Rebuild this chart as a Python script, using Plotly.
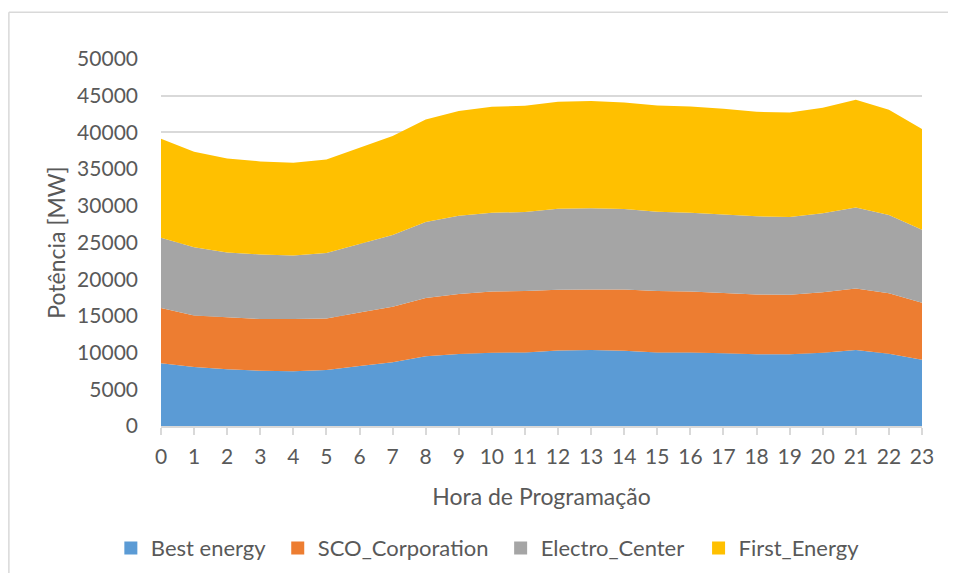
import plotly.graph_objects as go

hours = list(range(24))
best_energy = [8540, 8040, 7720, 7540, 7450, 7630, 8170, 8670, 9490, 9800, 9990, 10030,
               10300, 10350, 10260, 10030, 10030, 9900, 9760, 9760, 9990, 10350, 9850, 9030]
sco_corporation = [7530, 7030, 7080, 7030, 7120, 7030, 7310, 7580, 7940, 8180, 8350, 8360,
                   8270, 8260, 8350, 8360, 8310, 8210, 8170, 8130, 8220, 8400, 8220, 7770]
electro_center = [9580, 9270, 8850, 8810, 8670, 8900, 9310, 9760, 10350, 10670, 10710, 10760,
                  11030, 11040, 10940, 10800, 10720, 10720, 10630, 10580, 10760, 11030, 10670, 9940]
first_energy = [13480, 13020, 12810, 12670, 12630, 12760, 13120, 13490, 13990, 14250, 14440, 14480,
                14570, 14620, 14530, 14480, 14470, 14390, 14250, 14250, 14390, 14670, 14340, 13710]

series_names = ["Best energy", "SCO_Corporation", "Electro_Center", "First_Energy"]
series_values = [best_energy, sco_corporation, electro_center, first_energy]
series_colors = ["#5B9BD5", "#ED7D31", "#A5A5A5", "#FFC000"]

y_ticks = [0, 5000, 10000, 15000, 20000, 25000, 30000, 35000, 40000, 45000, 50000]

FONT = "Lato"
TXT = "#595959"
GRID = "#D9D9D9"

# page body has an 8px margin; figure sized to fit inside the 956x581 window
W, H = 940, 565
PL, PR, PT, PB = 152.7, 26, 51.3, 147  # plot area = x 160.7..922, y 59.3..426 in window px

legend_names = ["legend", "legend2", "legend3", "legend4"]
legend_x = [-0.0659, 0.1534, 0.4463, 0.7064]

fig = go.Figure()
for name, vals, col in zip(series_names, series_values, series_colors):
    fig.add_trace(go.Scatter(
        x=hours, y=vals, name=name, stackgroup="one", mode="none",
        fillcolor=col, showlegend=False, hoverinfo="x+y+name"))
for name, col, lg in zip(series_names, series_colors, legend_names):
    fig.add_trace(go.Scatter(
        x=[None], y=[None], name=name, mode="markers", legend=lg,
        marker=dict(symbol="square", size=13, color=col), showlegend=True))

legend_common = dict(orientation="h", y=-0.3327, yanchor="middle", xanchor="left",
                     font=dict(family=FONT, size=22, color=TXT), itemwidth=30,
                     bgcolor="rgba(0,0,0,0)", borderwidth=0)
layout_legends = {lg: dict(legend_common, x=lx) for lg, lx in zip(legend_names, legend_x)}

fig.update_layout(
    width=W, height=H,
    margin=dict(l=PL, r=PR, t=PT, b=PB, autoexpand=False),
    paper_bgcolor="white", plot_bgcolor="white",
    font=dict(family=FONT, size=21, color=TXT),
    showlegend=True,
    xaxis=dict(
        range=[0, 23], tickmode="array", tickvals=hours, ticktext=[str(h) for h in hours],
        showgrid=False, zeroline=False, showline=True, linecolor=GRID, linewidth=1.5,
        ticks="outside", ticklen=7, tickcolor=GRID, tickwidth=1.5, ticklabelstandoff=4,
        tickfont=dict(family=FONT, size=21, color=TXT),
        title=dict(text="Hora de Programação", font=dict(family=FONT, size=23, color=TXT), standoff=22),
        automargin=False,
    ),
    yaxis=dict(
        range=[0, 50000], tickmode="array", tickvals=y_ticks, ticktext=[str(v) for v in y_ticks],
        showgrid=True, gridcolor=GRID, gridwidth=1.5, zeroline=False, showline=False,
        ticks="", ticklabelstandoff=22,
        tickfont=dict(family=FONT, size=21, color=TXT),
        title=dict(text="Potência [MW]", font=dict(family=FONT, size=23, color=TXT), standoff=5),
        automargin=False,
    ),
    shapes=[
        dict(type="line", xref="paper", yref="paper", x0=-0.1999, x1=-0.1999, y0=1.1276, y1=-0.45,
             line=dict(color=GRID, width=1.5)),
        dict(type="line", xref="paper", yref="paper", x0=-0.1999, x1=1.05, y0=1.1276, y1=1.1276,
             line=dict(color=GRID, width=1.5)),
    ],
    **layout_legends,
)

fig.write_html("out.html")
